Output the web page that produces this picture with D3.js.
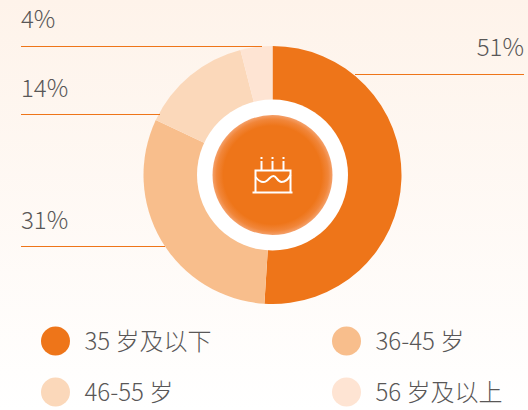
<!DOCTYPE html>
<html>
<head>
<meta charset="utf-8">
<script src="https://cdn.jsdelivr.net/npm/d3@7"></script>
<style>
    html, body { margin: 0; padding: 0; background: #fff; }
    svg { display: block; }
    text { font-family: "Noto Sans CJK SC", "Noto Sans", sans-serif; font-weight: 300; fill: #595757; }
</style>
</head>
<body>
<div id="chart"></div>
<script>
const categories = ["35 岁及以下", "36-45 岁", "46-55 岁", "56 岁及以上"];
const shares = [51, 31, 14, 4];
const colours = ["#ee7519", "#f8be8c", "#fbd8ba", "#fee4d3"];

const width = 528, height = 410;
const cx = 272.5, cy = 175;
const outerR = 129, ringR = 75.5, coreR = 60;

// leader lines sit by hand next to their slices
const leaders = [
    { x1: 355, x2: 524, y: 74.5, labelX: 524, labelY: 56, anchor: "end" },
    { x1: 21, x2: 165, y: 246.5, labelX: 21, labelY: 229, anchor: "start" },
    { x1: 21, x2: 160, y: 114.5, labelX: 21, labelY: 97, anchor: "start" },
    { x1: 21, x2: 262, y: 46.5, labelX: 21, labelY: 28, anchor: "start" }
];

const svg = d3.select("#chart")
    .append("svg")
    .attr("width", width)
    .attr("height", height);

const defs = svg.append("defs");

const bg = defs.append("linearGradient")
    .attr("id", "bg")
    .attr("x1", 0).attr("y1", 0).attr("x2", 0).attr("y2", 1);
bg.append("stop").attr("offset", "0%").attr("stop-color", "#fef3ea");
bg.append("stop").attr("offset", "100%").attr("stop-color", "#ffffff");

const core = defs.append("radialGradient").attr("id", "core");
core.append("stop").attr("offset", "0%").attr("stop-color", "#ee7519");
core.append("stop").attr("offset", "82%").attr("stop-color", "#ee7519");
core.append("stop").attr("offset", "93%").attr("stop-color", "#f1863a");
core.append("stop").attr("offset", "100%").attr("stop-color", "#f4a06a");

svg.append("rect")
    .attr("width", width)
    .attr("height", height)
    .attr("fill", "url(#bg)");

// Donut
const pie = d3.pie().sort(null).value(d => d);
const arc = d3.arc().innerRadius(0).outerRadius(outerR);

const donut = svg.append("g").attr("transform", `translate(${cx}, ${cy})`);

donut.selectAll("path")
    .data(pie(shares))
    .enter()
    .append("path")
    .attr("d", arc)
    .attr("fill", (d, i) => colours[i]);

donut.append("circle").attr("r", ringR).attr("fill", "#fff");
donut.append("circle").attr("r", coreR).attr("fill", "url(#core)");

// Cake icon
const cake = donut.append("g")
    .attr("fill", "none")
    .attr("stroke", "#fff")
    .attr("stroke-width", 2);
cake.append("path").attr("d", "M-20 17.5H20");
cake.append("path").attr("d", "M-17 17V-4.5H18V17");
cake.append("path").attr("d", "M-17 2C-13 7 -9 8 -6 6C-3 4 -2 1 1 1C4 1 5 7 9 7C13 7 16 4 18 0");
[-11, 0, 11].forEach(x => {
    cake.append("path").attr("d", `M${x} -4.5V-14`);
    cake.append("path").attr("d", `M${x} -18V-16`);
});

// Leader lines and percent labels
svg.selectAll(".leader")
    .data(leaders)
    .enter()
    .append("line")
    .attr("class", "leader")
    .attr("x1", d => d.x1)
    .attr("x2", d => d.x2)
    .attr("y1", d => d.y)
    .attr("y2", d => d.y)
    .attr("stroke", "#ee7519")
    .attr("stroke-width", 1);

svg.selectAll(".pct")
    .data(leaders)
    .enter()
    .append("text")
    .attr("class", "pct")
    .attr("x", d => d.labelX)
    .attr("y", d => d.labelY)
    .attr("text-anchor", d => d.anchor)
    .attr("font-size", 24)
    .text((d, i) => `${shares[i]}%`);

// Legend
const legendX = d3.scaleOrdinal().domain([0, 1]).range([55.5, 346.5]);
const legendY = d3.scaleOrdinal().domain([0, 1]).range([341, 392]);

const legend = svg.selectAll(".legend")
    .data(categories)
    .enter()
    .append("g")
    .attr("class", "legend")
    .attr("transform", (d, i) => `translate(${legendX(i % 2)}, ${legendY(Math.floor(i / 2))})`);

legend.append("circle")
    .attr("r", 14.5)
    .attr("fill", (d, i) => colours[i]);

legend.append("text")
    .attr("x", 29)
    .attr("y", 9)
    .attr("font-size", 24)
    .text(d => d);
</script>
</body>
</html>
